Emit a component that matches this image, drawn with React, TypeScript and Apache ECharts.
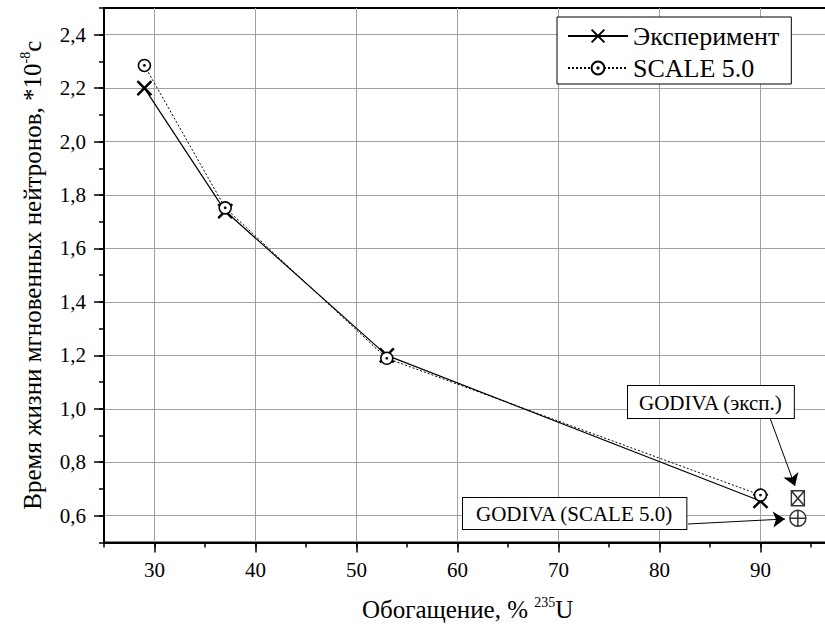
import React, { useEffect, useRef } from 'react';
import * as echarts from 'echarts';

// ---- data ----
const enrichment = [29, 37, 53, 90];
const experiment = [2.2, 1.74, 1.2, 0.655];
const scale50 = [2.285, 1.752, 1.189, 0.677];
const godivaEnrichment = [93.7];
const godivaExperiment = [0.665];
const godivaScale = [0.59];
const seriesNames = ['Эксперимент', 'SCALE 5.0'];

// ---- axis ranges ----
const X_MIN = 25, X_MAX = 97;
const Y_MIN = 0.5, Y_MAX = 2.5;
const X_MAJOR_MIN = 30, X_MAJOR_MAX = 90;
const Y_MAJOR_MIN = 0.6, Y_MAJOR_MAX = 2.4;

// ---- layout ----
const FONT = 'Liberation Serif';
const PLOT_LEFT = 104;
const PLOT_TOP = 8;
const PX_X = 10.1;
const PLOT_H = 534.4;
const PX_Y = PLOT_H / (Y_MAX - Y_MIN);
const PLOT_W = (X_MAX - X_MIN) * PX_X;

const SYM_X = 'path://M0,0L20,20M20,0L0,20';
const SYM_CIRCLE_DOT = 'path://M0,10A10,10 0 1 0 20,10A10,10 0 1 0 0,10Z M9,10A1,1 0 1 0 11,10A1,1 0 1 0 9,10Z';
const SYM_SQUARE_X = 'path://M0,0L20,0L20,20L0,20Z M0,0L20,20 M20,0L0,20';
const SYM_CIRCLE_PLUS = 'path://M0,10A10,10 0 1 0 20,10A10,10 0 1 0 0,10Z M10,0L10,20 M0,10L20,10';

export default function App() {
  const ref = useRef<HTMLDivElement>(null);
  useEffect(() => {
    if (!ref.current) return;
    const chart = echarts.init(ref.current, null, { renderer: 'svg' });
    const fmt = (v: number) => v.toFixed(1).replace('.', ',');
    const option: any = {
      animation: false,
      backgroundColor: '#fff',
      textStyle: { fontFamily: FONT, color: '#000' },
      grid: [
        { left: PLOT_LEFT, top: PLOT_TOP, width: PLOT_W, height: PLOT_H, show: true, borderColor: '#000', borderWidth: 2, backgroundColor: 'transparent', containLabel: false, outerBoundsMode: 'none' },
        { left: PLOT_LEFT + (X_MAJOR_MIN - X_MIN) * PX_X, top: PLOT_TOP, width: (X_MAJOR_MAX - X_MAJOR_MIN) * PX_X, height: PLOT_H, containLabel: false, outerBoundsMode: 'none' },
        { left: PLOT_LEFT, top: PLOT_TOP + (Y_MAX - Y_MAJOR_MAX) * PX_Y, width: PLOT_W, height: (Y_MAJOR_MAX - Y_MAJOR_MIN) * PX_Y, containLabel: false, outerBoundsMode: 'none' },
      ],
      xAxis: [
        {
          type: 'value', gridIndex: 0, min: X_MIN, max: X_MAX, interval: 5,
          axisLine: { show: true, onZero: false, lineStyle: { color: '#000', width: 2 } },
          axisTick: { show: true, length: 5, lineStyle: { color: '#000', width: 1.5 } },
          axisLabel: { show: false }, splitLine: { show: false },
          name: '{n|Обогащение, % }{s|235}{n|U}',
          nameLocation: 'middle', nameGap: 53,
          nameTextStyle: {
            rich: {
              n: { fontSize: 25, fontFamily: FONT, color: '#000', lineHeight: 28 },
              s: { fontSize: 14, fontFamily: FONT, color: '#000', lineHeight: 16, verticalAlign: 'top' },
            },
          },
          z: 5,
        },
        {
          type: 'value', gridIndex: 1, min: X_MAJOR_MIN, max: X_MAJOR_MAX, interval: 10,
          axisLine: { show: false, onZero: false },
          axisTick: { show: true, length: 10, lineStyle: { color: '#000', width: 1.5 } },
          axisLabel: { show: true, fontSize: 21, margin: 17, color: '#000', fontFamily: FONT },
          splitLine: { show: true, lineStyle: { color: '#a0a0a0', width: 1 } },
        },
        { type: 'value', gridIndex: 2, show: false, min: 0, max: 1, axisLine: { onZero: false }, splitLine: { show: false } },
      ],
      yAxis: [
        {
          type: 'value', gridIndex: 0, min: Y_MIN, max: Y_MAX, interval: 0.1,
          axisLine: { show: true, onZero: false, lineStyle: { color: '#000', width: 2 } },
          axisTick: { show: true, length: 5, lineStyle: { color: '#000', width: 1.5 } },
          axisLabel: { show: false }, splitLine: { show: false },
          name: '{n|Время жизни мгновенных нейтронов, *10}{s|-8}{n|с}',
          nameLocation: 'middle', nameGap: 58,
          nameTextStyle: {
            rich: {
              n: { fontSize: 25, fontFamily: FONT, color: '#000', lineHeight: 28 },
              s: { fontSize: 14, fontFamily: FONT, color: '#000', lineHeight: 16, verticalAlign: 'top' },
            },
          },
          z: 5,
        },
        { type: 'value', gridIndex: 1, show: false, min: 0, max: 1, axisLine: { onZero: false }, splitLine: { show: false } },
        {
          type: 'value', gridIndex: 2, min: Y_MAJOR_MIN, max: Y_MAJOR_MAX, interval: 0.2,
          axisLine: { show: false, onZero: false },
          axisTick: { show: true, length: 10, lineStyle: { color: '#000', width: 1.5 } },
          axisLabel: { show: true, fontSize: 21, margin: 18, color: '#000', fontFamily: FONT, formatter: fmt },
          splitLine: { show: true, lineStyle: { color: '#a0a0a0', width: 1 } },
        },
      ],
      legend: {
        data: seriesNames,
        orient: 'vertical',
        left: 557, top: 17,
        padding: [6, 12, 3, 10],
        itemGap: 6,
        itemWidth: 60, itemHeight: 16,
        backgroundColor: '#fff',
        borderColor: '#000', borderWidth: 1, borderRadius: 0,
        textStyle: { fontSize: 26, fontFamily: FONT, color: '#000' },
        z: 10,
      },
      series: [
        {
          name: seriesNames[0], type: 'line', xAxisIndex: 0, yAxisIndex: 0,
          data: enrichment.map((x, i) => [x, experiment[i]]),
          symbol: SYM_X, symbolSize: 14,
          lineStyle: { color: '#000', width: 1.2, type: 'solid' },
          itemStyle: { color: '#000', borderColor: '#000', borderWidth: 2.5 },
          z: 3,
        },
        {
          name: seriesNames[1], type: 'line', xAxisIndex: 0, yAxisIndex: 0,
          data: enrichment.map((x, i) => [x, scale50[i]]),
          symbol: SYM_CIRCLE_DOT, symbolSize: 12,
          lineStyle: { color: '#000', width: 1, type: [2, 2] },
          itemStyle: { color: '#fff', borderColor: '#000', borderWidth: 1.6 },
          z: 4,
        },
        {
          name: 'GODIVA (эксп.)', type: 'scatter', xAxisIndex: 0, yAxisIndex: 0,
          data: godivaEnrichment.map((x, i) => [x, godivaExperiment[i]]),
          symbol: SYM_SQUARE_X, symbolSize: [13, 15],
          itemStyle: { color: '#fff', borderColor: '#000', borderWidth: 1.5 },
          z: 4,
          markLine: {
            silent: true, symbol: ['none', 'arrow'], symbolSize: 12,
            lineStyle: { color: '#000', width: 1, type: 'solid' },
            label: { show: false },
            data: [
              [{ x: 770, y: 418 }, { x: 795, y: 486 }],
              [{ x: 688, y: 524 }, { x: 785, y: 519 }],
            ],
          },
        },
        {
          name: 'GODIVA (SCALE 5.0)', type: 'scatter', xAxisIndex: 0, yAxisIndex: 0,
          data: godivaEnrichment.map((x, i) => [x, godivaScale[i]]),
          symbol: SYM_CIRCLE_PLUS, symbolSize: 16,
          itemStyle: { color: '#fff', borderColor: '#000', borderWidth: 1.5 },
          z: 4,
        },
      ],
      graphic: [
        {
          type: 'text', left: 627, top: 385, z: 100,
          style: {
            text: 'GODIVA (эксп.)', fontSize: 21, fontFamily: FONT, fill: '#000',
            backgroundColor: '#fff', borderColor: '#000', borderWidth: 1, padding: [6, 11, 5, 11],
          },
        },
        {
          type: 'text', left: 462, top: 497, z: 100,
          style: {
            text: 'GODIVA (SCALE 5.0)', fontSize: 21, fontFamily: FONT, fill: '#000',
            backgroundColor: '#fff', borderColor: '#000', borderWidth: 1, padding: [5, 13, 5, 13],
          },
        },
      ],
    };
    chart.setOption(option);
    return () => chart.dispose();
  }, []);
  return (
    <div
      ref={ref}
      style={{ position: 'fixed', left: 0, top: 0, width: 825, height: 633, background: '#fff' }}
    />
  );
}
